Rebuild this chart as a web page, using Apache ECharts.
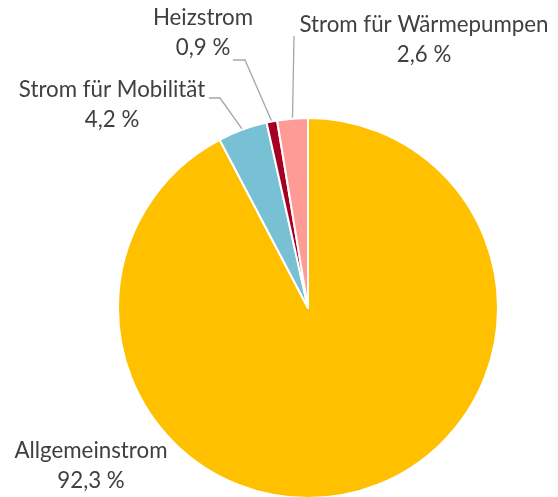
<!DOCTYPE html>
<html>
<head>
<meta charset="utf-8">
<script src="https://cdn.jsdelivr.net/npm/echarts@6/dist/echarts.min.js"></script>
<style>
html,body{margin:0;padding:0;background:#fff;}
#chart{width:558px;height:497px;}
</style>
</head>
<body>
<div id="chart"></div>
<script>
// Data
const categories = ['Allgemeinstrom', 'Strom für Mobilität', 'Heizstrom', 'Strom für Wärmepumpen'];
const values = [92.3, 4.2, 0.9, 2.6];
const colors = ['#FFC000', '#78C1D5', '#A50021', '#FF9A94'];

// Label placement (layout, not data)
const labelCenters = [[91, 466], [112, 105], [203, 33], [424, 40]];
const labelGuides = [null, [[220, 98], [209, 98]], [[245, 60], [233, 60]], [[294, 36]]];

const chart = echarts.init(document.getElementById('chart'), null, {renderer: 'canvas'});

const fmt = v => v.toFixed(1).replace('.', ',') + ' %';

chart.setOption({
  animation: false,
  backgroundColor: '#ffffff',
  series: [{
    type: 'pie',
    center: [308, 308],
    radius: 190,
    startAngle: 90,
    clockwise: true,
    avoidLabelOverlap: false,
    emphasis: {disabled: true},
    itemStyle: {borderColor: '#ffffff', borderWidth: 2},
    label: {
      show: true,
      position: 'outside',
      formatter: p => p.name + '\n' + fmt(p.value),
      fontFamily: 'Lato',
      fontSize: 22.3,
      lineHeight: 30,
      color: '#404040',
      align: 'center'
    },
    labelLine: {
      show: true,
      lineStyle: {color: '#A6A6A6', width: 1.3}
    },
    labelLayout: function (params) {
      const i = params.dataIndex;
      const res = {
        x: labelCenters[i][0],
        y: labelCenters[i][1],
        align: 'center',
        verticalAlign: 'middle'
      };
      if (labelGuides[i] && params.labelLinePoints) {
        res.labelLinePoints = [params.labelLinePoints[0]].concat(labelGuides[i]);
      }
      return res;
    },
    data: categories.map((c, i) => ({
      name: c,
      value: values[i],
      itemStyle: {color: colors[i]},
      labelLine: {show: i !== 0}
    }))
  }]
});
</script>
</body>
</html>
